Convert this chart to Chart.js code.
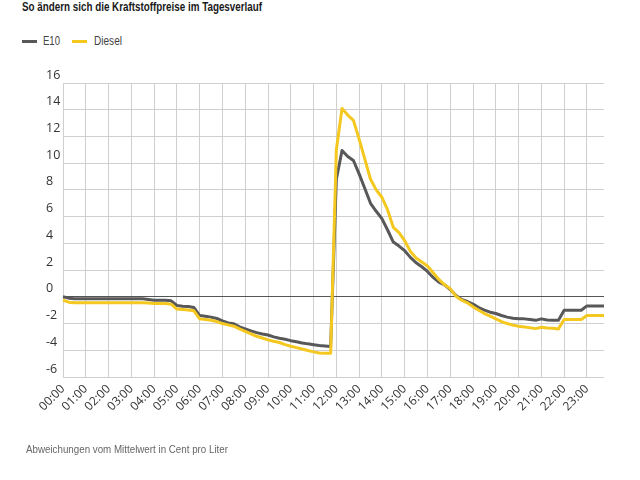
<!DOCTYPE html>
<html lang="de">
<head>
<meta charset="UTF-8">
<title>Kraftstoffpreise im Tagesverlauf</title>
<script src="https://cdn.jsdelivr.net/npm/chart.js"></script>
<style>
    * { margin: 0; padding: 0; }
    body { width: 640px; height: 480px; background: #fff; position: relative; overflow: hidden;
           font-family: "Liberation Sans", sans-serif; }
    #diagramm { position: absolute; left: 0; top: 0; }
    .text { position: absolute; display: inline-block; white-space: nowrap; transform-origin: 0 50%; }
    .titel { left: 22px; top: 0px; font-weight: bold; font-size: 12.5px; color: #1a1a1a; line-height: 15px; }
    .strich { position: absolute; top: 40px; width: 15px; height: 3px; }
    .leg { top: 34px; font-size: 12.5px; color: #444; line-height: 15px; }
    .quelle { left: 26px; top: 442px; font-size: 11px; color: #666; line-height: 14px; }
</style>
</head>
<body>
<div class="text titel" data-breite="240">So ändern sich die Kraftstoffpreise im Tagesverlauf</div>
<span class="strich" style="left:22px; background:#58585a"></span>
<span class="text leg" style="left:43px" data-breite="17">E10</span>
<span class="strich" style="left:72px; background:#f4c81e"></span>
<span class="text leg" style="left:94px" data-breite="28">Diesel</span>
<canvas id="diagramm" width="640" height="480"></canvas>
<div class="text quelle" data-breite="202">Abweichungen vom Mittelwert in Cent pro Liter</div>

<script>
// Stunden (Achsenbeschriftung), Werte alle 15 Minuten
const stunden = ['00:00', '01:00', '02:00', '03:00', '04:00', '05:00', '06:00', '07:00',
                 '08:00', '09:00', '10:00', '11:00', '12:00', '13:00', '14:00', '15:00',
                 '16:00', '17:00', '18:00', '19:00', '20:00', '21:00', '22:00', '23:00'];
const minuten = ['00', '15', '30', '45'];

// Abweichung in Cent pro Liter
const e10 = [
    0.0, -0.1, -0.15, -0.15,   -0.15, -0.15, -0.15, -0.15,   -0.15, -0.15, -0.15, -0.15,
    -0.15, -0.15, -0.15, -0.2,   -0.25, -0.25, -0.25, -0.3,   -0.65, -0.7, -0.72, -0.8,
    -1.4, -1.45, -1.52, -1.62,   -1.8, -1.95, -2.02, -2.25,   -2.4, -2.55, -2.68, -2.78,
    -2.86, -3.0, -3.1, -3.18,   -3.28, -3.36, -3.45, -3.52,   -3.58, -3.64, -3.68, -3.72,
    8.8, 10.95, 10.5, 10.2,   9.2, 8.1, 7.0, 6.4,   5.85, 5.0, 4.1, 3.8,
    3.45, 2.95, 2.55, 2.25,   1.9, 1.45, 1.1, 0.9,   0.55, 0.1, -0.2, -0.35,
    -0.55, -0.8, -1.0, -1.15,   -1.25, -1.4, -1.52, -1.6,   -1.64, -1.65, -1.7, -1.76,
    -1.65, -1.74, -1.75, -1.75,   -1.0, -1.0, -1.0, -1.0,   -0.68, -0.68, -0.68, -0.68
];
const diesel = [
    -0.25, -0.4, -0.45, -0.45,   -0.45, -0.45, -0.45, -0.45,   -0.45, -0.45, -0.45, -0.45,
    -0.45, -0.45, -0.45, -0.47,   -0.5, -0.5, -0.5, -0.55,   -0.92, -0.95, -0.98, -1.05,
    -1.65, -1.7, -1.75, -1.85,   -2.0, -2.1, -2.2, -2.4,   -2.58, -2.78, -2.95, -3.08,
    -3.22, -3.33, -3.42, -3.58,   -3.7, -3.8, -3.9, -4.02,   -4.12, -4.2, -4.22, -4.22,
    11.0, 14.1, 13.6, 13.2,   11.8, 10.3, 8.8, 8.0,   7.45, 6.5, 5.2, 4.8,
    4.2, 3.4, 2.9, 2.6,   2.3, 1.8, 1.3, 0.9,   0.6, 0.05, -0.25, -0.45,
    -0.75, -1.0, -1.25, -1.45,   -1.65, -1.85, -2.0, -2.12,   -2.2, -2.25, -2.32, -2.38,
    -2.28, -2.34, -2.36, -2.4,   -1.7, -1.7, -1.7, -1.7,   -1.4, -1.4, -1.4, -1.4
];

const zeiten = [];
stunden.forEach(h => minuten.forEach(m => zeiten.push(h.slice(0, 3) + m)));

// Texte auf die Breite im Original stauchen
document.querySelectorAll('[data-breite]').forEach(el => {
    const ist = el.getBoundingClientRect().width;
    const soll = parseFloat(el.dataset.breite);
    if (ist > 0) el.style.transform = 'scaleX(' + (soll / ist).toFixed(3) + ')';
});

const schrift = '"Open Sans", "Noto Sans", sans-serif';

const ctx = document.getElementById('diagramm').getContext('2d');
const diagramm = new Chart(ctx, {
    type: 'line',
    data: {
        labels: zeiten,
        datasets: [
            {
                label: 'E10',
                data: e10,
                borderColor: '#58585a',
                borderWidth: 3,
                pointRadius: 0,
                tension: 0,
                borderJoinStyle: 'round',
                order: 1
            },
            {
                label: 'Diesel',
                data: diesel,
                borderColor: '#f4c81e',
                borderWidth: 3,
                pointRadius: 0,
                tension: 0,
                borderJoinStyle: 'round',
                order: 0
            }
        ]
    },
    options: {
        responsive: false,
        animation: false,
        layout: { padding: { left: 46, top: 83, right: 36, bottom: 63 } },
        plugins: {
            legend: { display: false },
            tooltip: { enabled: false }
        },
        scales: {
            x: {
                grid: { color: '#cfcfcf', lineWidth: 1, drawTicks: false },
                border: { display: false },
                ticks: {
                    autoSkip: false,
                    maxRotation: 45,
                    minRotation: 45,
                    padding: 5,
                    color: '#333',
                    font: { family: schrift, size: 12 },
                    callback: (wert, i) => (i % 4 === 0 ? zeiten[i] : null)
                },
                afterFit: (skala) => { skala.height = 40; }
            },
            y: {
                min: -6,
                max: 16,
                grid: {
                    color: (c) => (c.tick && c.tick.value === 0 ? '#555' : '#cfcfcf'),
                    lineWidth: 1,
                    drawTicks: false
                },
                border: { display: false },
                ticks: {
                    stepSize: 2,
                    crossAlign: 'far',
                    labelOffset: -8,
                    color: '#333',
                    font: { family: schrift, size: 12.5 }
                },
                afterFit: (skala) => { skala.width = 17; }
            }
        }
    }
});
</script>
</body>
</html>
